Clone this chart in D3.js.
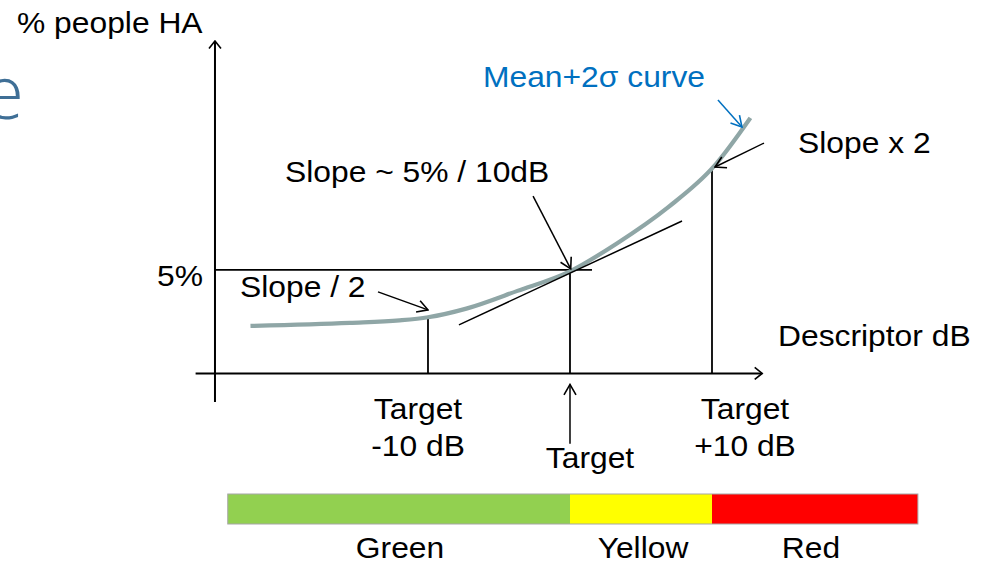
<!DOCTYPE html>
<html><head><meta charset="utf-8">
<script src="https://cdn.jsdelivr.net/npm/d3@7"></script>
<style>
body{margin:0;background:#fff;}
svg{display:block;}
text{font-family:"Liberation Sans",Arial,sans-serif;fill:#000;}
</style>
</head><body>
<svg id="c" width="986" height="565"></svg>
<script>
// ---- data (descriptor in dB relative to target, % people highly annoyed) ----
const curveDB  = [-22.5, -15.5, -12, -10, -7.3, -3.7, 0, 3.3, 6.9, 10.1, 12.7];
const curvePct = [2.28, 2.43, 2.55, 2.70, 3.12, 3.98, 4.93, 6.28, 8.03, 9.99, 12.37];
const tangentDB  = [-7.82, 7.89];
const tangentPct = [2.33, 7.37];
const targetDB  = [-10, 0, 10];
const targetPct = [2.70, 4.93, 9.99];
const targetLabels = [["Target", "-10 dB"], ["Target"], ["Target", "+10 dB"]];
const refPct = 5;
const refLabel = "5%";
const refEndDB = 1.55;
const zoneNames  = ["Green", "Yellow", "Red"];
const zoneStart  = [-24.1, 0, 10];
const zoneEnd    = [0, 10, 24.5];
const zoneColors = ["#92d050", "#ffff00", "#ff0000"];
const annotTexts = ["Slope / 2", "Slope ~ 5% / 10dB", "Slope x 2", "Mean+2σ curve"];
const annotFromDB  = [-13.52, -2.6, 13.66, 10.42];
const annotFromPct = [3.93, 8.58, 11.15, 13.24];
const annotToDB    = [-10.0, 0.05, 10.21, 12.11];
const annotToPct   = [3.06, 5.05, 9.99, 11.93];
const yTitle = "% people HA";
const xTitle = "Descriptor dB";

// ---- scales ----
const svg = d3.select("#c");
const x = d3.scaleLinear().domain([-26.4, 13.5]).range([195.1, 761.7]);
const y = d3.scaleLinear().domain([-1.41, 16.1]).range([402, 41]);
const x0 = x(-25);

// markers
const defs = svg.append("defs");
function marker(id, color, len, half) {
  defs.append("marker").attr("id", id)
    .attr("viewBox", `0 0 ${len+2} ${half*2+2}`)
    .attr("refX", len+0.5).attr("refY", half+1)
    .attr("markerWidth", len+2).attr("markerHeight", half*2+2)
    .attr("markerUnits", "userSpaceOnUse").attr("orient", "auto")
    .append("path").attr("d", `M1,1 L${len+0.5},${half+1} L1,${half*2+1}`)
    .attr("fill", "none").attr("stroke", color).attr("stroke-width", 1.6);
}
marker("ah", "#000", 11, 6);
marker("ahAxis", "#000", 8, 6);
marker("ahBlue", "#0070c0", 11, 6);

// clipped title letter at left edge (as in the source slide)
svg.append("text").attr("x", 24).attr("y", 119).attr("text-anchor", "end")
  .style("font-family", "'Open Sans',sans-serif").style("font-weight", 300)
  .style("font-size", "74px").style("fill", "#3f6f96").text("e");

// ---- axes (no ticks) ----
const xAxis = d3.axisBottom(x).tickValues([]).tickSizeOuter(0);
const gx = svg.append("g").attr("transform", `translate(0,${y(0)})`).call(xAxis);
gx.select(".domain").attr("stroke", "#000").attr("stroke-width", 2).attr("marker-end", "url(#ahAxis)");
const yAxis = d3.axisLeft(y).tickValues([]).tickSizeOuter(0);
const gy = svg.append("g").attr("transform", `translate(${x0},0)`).call(yAxis);
gy.select(".domain").attr("stroke", "#000").attr("stroke-width", 2)
  .attr("d", `M0,${y(-1.41)}V${y(16.1)}`).attr("marker-end", "url(#ahAxis)");

// 5% reference line
svg.append("line").attr("x1", x0).attr("x2", x(refEndDB))
  .attr("y1", y(refPct)).attr("y2", y(refPct)).attr("stroke", "#000").attr("stroke-width", 1.8);

// drop lines
svg.selectAll("line.drop").data(targetDB).join("line").attr("class", "drop")
  .attr("x1", d => x(d)).attr("x2", d => x(d))
  .attr("y1", (d, i) => y(targetPct[i])).attr("y2", y(0))
  .attr("stroke", "#000").attr("stroke-width", 1.8);

// curve
const pts = curveDB.map((d, i) => [x(d), y(curvePct[i])]);
svg.append("path").attr("d", d3.line().curve(d3.curveMonotoneX)(pts))
  .attr("fill", "none").attr("stroke", "#8fa6a6").attr("stroke-width", 4.2).attr("stroke-linecap", "butt");

// tangent
svg.append("line").attr("x1", x(tangentDB[0])).attr("y1", y(tangentPct[0]))
  .attr("x2", x(tangentDB[1])).attr("y2", y(tangentPct[1]))
  .attr("stroke", "#000").attr("stroke-width", 1.5);

// annotation arrows
annotTexts.forEach((t, i) => {
  svg.append("line").attr("x1", x(annotFromDB[i])).attr("y1", y(annotFromPct[i]))
    .attr("x2", x(annotToDB[i])).attr("y2", y(annotToPct[i]))
    .attr("stroke", i === 3 ? "#0070c0" : "#000").attr("stroke-width", 1.5)
    .attr("marker-end", i === 3 ? "url(#ahBlue)" : "url(#ah)");
});
// target up arrow
svg.append("line").attr("x1", x(0)).attr("x2", x(0)).attr("y1", y(-3.44)).attr("y2", y(-0.56))
  .attr("stroke", "#000").attr("stroke-width", 1.5).attr("marker-end", "url(#ah)");

// ---- texts ----
const SX = 1.06, FS = "30px";
function txt(str, px, py, anchor, color) {
  svg.append("text").attr("transform", `translate(${px},${py}) scale(${SX},1)`)
    .attr("text-anchor", anchor || "start").style("font-size", FS)
    .style("fill", color || "#000").text(str);
}
txt(yTitle, 17, 33);
txt(xTitle, 778, 346);
txt(refLabel, 203, 286, "end");
const annotPos = [[240, 297, "start"], [285, 182, "start"], [798, 153, "start"], [483, 87, "start"]];
annotTexts.forEach((t, i) => txt(t, annotPos[i][0], annotPos[i][1], annotPos[i][2], i === 3 ? "#0070c0" : "#000"));

const labelCx = [418, 590, 745];
const labelY  = [419, 468, 419];
targetLabels.forEach((lines, i) => {
  lines.forEach((l, j) => txt(l, labelCx[i], labelY[i] + j * 37, "middle"));
});

// ---- zone bar ----
const barTop = 494, barH = 30;
svg.selectAll("rect.zone").data(zoneNames).join("rect").attr("class", "zone")
  .attr("x", (d, i) => x(zoneStart[i])).attr("width", (d, i) => x(zoneEnd[i]) - x(zoneStart[i]))
  .attr("y", barTop).attr("height", barH).attr("fill", (d, i) => zoneColors[i]);
svg.append("rect").attr("x", x(zoneStart[0])).attr("y", barTop)
  .attr("width", x(zoneEnd[2]) - x(zoneStart[0])).attr("height", barH)
  .attr("fill", "none").attr("stroke", "#a6a6a6").attr("stroke-width", 1);
const zoneLabelCx = [400, 643, 811];
zoneNames.forEach((n, i) => txt(n, zoneLabelCx[i], 558, "middle"));
</script>
</body></html>
